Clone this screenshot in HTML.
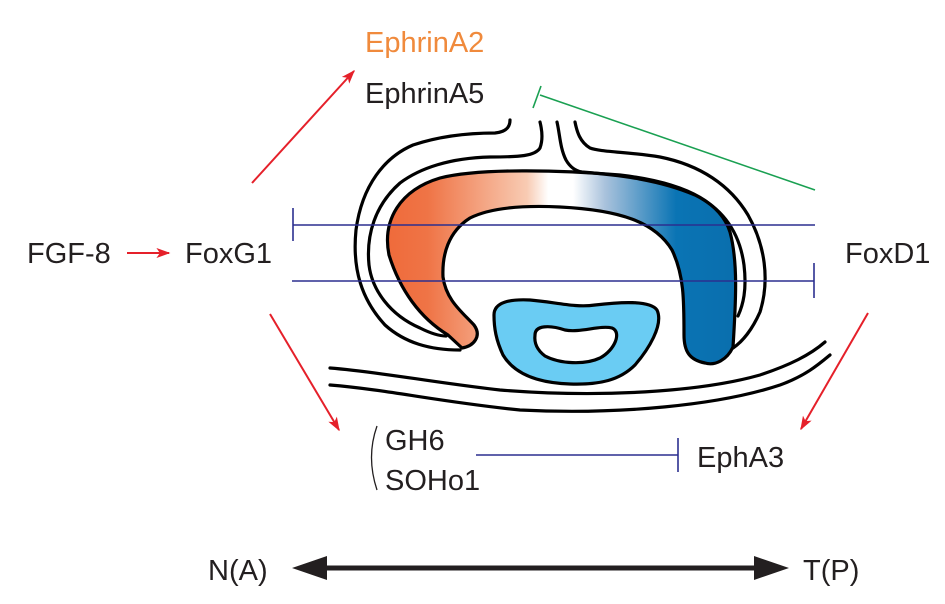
<!DOCTYPE html>
<html><head><meta charset="utf-8"><style>
html,body{margin:0;padding:0;background:#fff;}
svg{display:block;}
text{font-family:"Liberation Sans",Arial,sans-serif;font-size:29px;fill:#231f20;}
</style></head><body>
<svg width="945" height="604" viewBox="0 0 945 604" xmlns="http://www.w3.org/2000/svg">
<defs>
<linearGradient id="g" x1="385" y1="0" x2="740" y2="0" gradientUnits="userSpaceOnUse">
<stop offset="0" stop-color="#ef6a3a"/>
<stop offset="0.12" stop-color="#ef7446"/>
<stop offset="0.4" stop-color="#f8cbb3"/>
<stop offset="0.46" stop-color="#ffffff"/>
<stop offset="0.53" stop-color="#ffffff"/>
<stop offset="0.62" stop-color="#a9c2dc"/>
<stop offset="0.82" stop-color="#0a74b4"/>
<stop offset="1" stop-color="#0a6ead"/>
</linearGradient>
<marker id="ar" viewBox="0 0 10 10" refX="9" refY="5" markerWidth="14" markerHeight="10" orient="auto" markerUnits="userSpaceOnUse" preserveAspectRatio="none">
<path d="M0,0 L10,5 L0,10 L2.5,5 Z" fill="#e5202a"/>
</marker>
</defs>

<text x="365" y="52" style="fill:#f08a3c">EphrinA2</text>
<text x="365" y="103">EphrinA5</text>
<text x="27" y="263">FGF-8</text>
<text x="185" y="263">FoxG1</text>
<text x="845" y="263">FoxD1</text>
<text x="385" y="450">GH6</text>
<text x="385" y="490">SOHo1</text>
<text x="697" y="467">EphA3</text>
<text x="208" y="580">N(A)</text>
<text x="803" y="580">T(P)</text>
<path d="M377,426 Q366,457 377,490" fill="none" stroke="#231f20" stroke-width="1.3"/>

<g stroke="#e5202a" stroke-width="2" fill="none">
<line x1="127" y1="253" x2="169" y2="253" marker-end="url(#ar)"/>
<line x1="252" y1="183" x2="354" y2="71" marker-end="url(#ar)"/>
<line x1="270" y1="314" x2="339" y2="430" marker-end="url(#ar)"/>
<line x1="868" y1="313" x2="801" y2="429" marker-end="url(#ar)"/>
</g>

<path d="M448,335 C420,318 400,290 389,255 C382,220 400,190 440,178 C480,168 560,170 620,175 C680,182 720,200 730,232 C738,262 736,300 733,347 C727,360 715,366 705,363 C690,360 684,352 684,335 C684,300 684,275 672,250 C655,222 620,210 560,207 C520,205 490,208 470,218 C448,232 442,255 443,277 C446,300 462,312 474,325 C482,336 474,346 462,348 Z" fill="url(#g)" stroke="#000" stroke-width="3.2" stroke-linejoin="round"/>

<path d="M494,315 C494,302 510,299 530,300 C555,302 575,308 595,305 C620,302 650,300 657,310 C664,325 648,350 635,365 C620,380 600,385 570,384 C540,383 515,375 503,355 C496,340 494,328 494,315 Z" fill="#6accf3" stroke="#000" stroke-width="3.2"/>
<path d="M535,335 C535,325 550,325 565,330 C580,333 600,325 612,328 C622,332 615,350 600,358 C585,365 560,364 545,356 C537,350 534,343 535,335 Z" fill="#fff" stroke="#000" stroke-width="3.2"/>

<g fill="none" stroke="#000" stroke-width="3.2" stroke-linecap="round">
<path d="M510,120 C510,128 505,132 495,133 C470,133 440,136 413,145 C385,157 362,185 356,230 C352,270 362,300 385,325 C405,343 430,350 460,350"/>
<path d="M540,122 C542,130 543,140 540,148 C535,156 520,157 490,157 C450,158 420,168 400,183 C375,205 366,235 369,265 C372,290 390,315 420,328 C430,333 440,336 446,336"/>
<path d="M557,122 C560,135 560,148 566,160 C570,167 576,171 582,172 C620,175 660,180 695,195 C725,210 740,235 744,265 C747,290 743,305 738,316"/>
<path d="M575,122 C577,132 580,142 590,148 C600,152 630,152 660,157 C700,165 730,185 748,215 C765,245 770,280 760,312 C752,330 742,342 733,348"/>
<path d="M330,368 C380,372 430,382 500,390 C600,398 700,392 760,375 C790,365 810,355 825,342"/>
<path d="M330,385 C390,390 440,402 520,410 C620,415 720,405 780,385 C805,376 818,365 830,355"/>
</g>

<g stroke="#2b2f8f" stroke-width="1.6" fill="none">
<line x1="293" y1="225" x2="815" y2="225"/>
<line x1="293" y1="208" x2="293" y2="241"/>
<line x1="292" y1="281" x2="814" y2="281"/>
<line x1="814" y1="263" x2="814" y2="298"/>
<line x1="476" y1="455" x2="678" y2="455"/>
<line x1="678" y1="438" x2="678" y2="472"/>
</g>

<g stroke="#1aa052" stroke-width="1.6" fill="none">
<line x1="540" y1="95" x2="815" y2="190"/>
<line x1="533" y1="108" x2="541" y2="86"/>
</g>

<line x1="320" y1="568" x2="760" y2="568" stroke="#231f20" stroke-width="5"/>
<path d="M292,568 L327,556 L327,580 Z" fill="#231f20"/>
<path d="M789,568 L754,556 L754,580 Z" fill="#231f20"/>
</svg>
</body></html>
